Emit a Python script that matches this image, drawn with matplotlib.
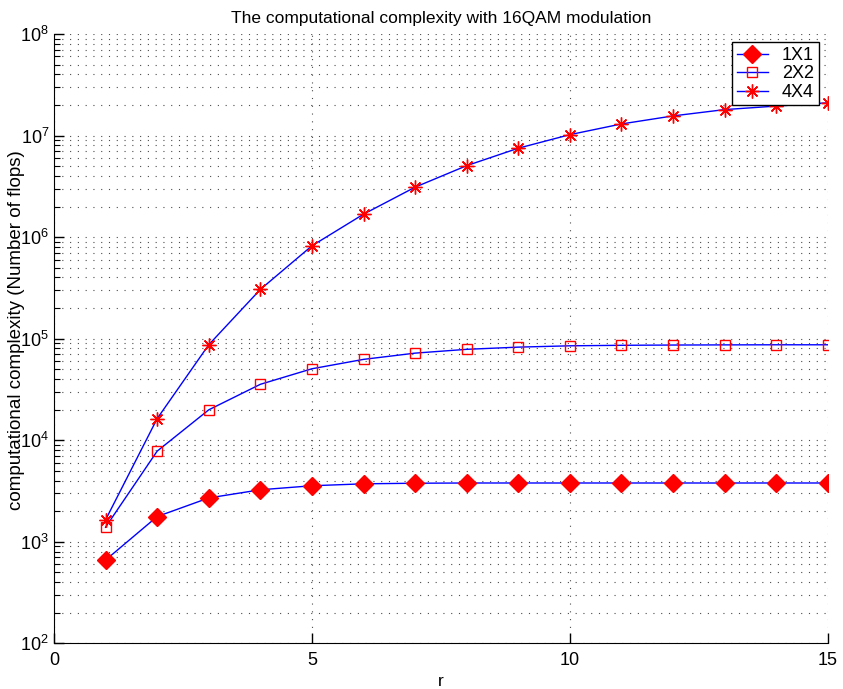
import matplotlib

matplotlib.use("Agg")
import matplotlib.pyplot as plt
from matplotlib.ticker import LogLocator, MultipleLocator, NullFormatter

plt.rcParams["font.family"] = ["Liberation Sans", "DejaVu Sans"]
plt.rcParams["mathtext.fontset"] = "custom"
plt.rcParams["mathtext.rm"] = "Liberation Sans"
plt.rcParams["mathtext.it"] = "Liberation Sans"

# number of flops per r for each antenna configuration
r = [1, 2, 3, 4, 5, 6, 7, 8, 9, 10, 11, 12, 13, 14, 15]
flops_1x1 = [660, 1770, 2700, 3250, 3560, 3720, 3770, 3790, 3790, 3790,
             3790, 3790, 3790, 3790, 3790]
flops_2x2 = [1390, 7800, 19900, 35500, 50500, 62500, 72000, 78500, 82500, 85000,
             86000, 86500, 86800, 87000, 87000]
flops_4x4 = [1640, 16300, 87000, 305000, 820000, 1.68e6, 3.1e6, 5.05e6, 7.5e6, 1.02e7,
             1.3e7, 1.56e7, 1.8e7, 1.95e7, 2.1e7]
labels = ["1X1", "2X2", "4X4"]

fig = plt.figure(figsize=(8.43, 6.89), dpi=100)
ax = fig.add_axes([0.064, 0.0663, 0.918, 0.8844])

line_kw = dict(color="blue", lw=1.0, markeredgecolor="red")
ax.semilogy(r, flops_1x1, marker="D", ms=9, markerfacecolor="red", label=labels[0], **line_kw)
ax.semilogy(r, flops_2x2, marker="s", ms=7, markerfacecolor="none", mew=1.0, label=labels[1], **line_kw)
ax.semilogy(r, flops_4x4, marker=(8, 2, 0), ms=10, mew=1.0, label=labels[2], **line_kw)

ax.set_xlim(0, 15)
ax.set_ylim(1e2, 1e8)
ax.xaxis.set_major_locator(MultipleLocator(5))
ax.yaxis.set_major_locator(LogLocator(base=10, numticks=10))
ax.yaxis.set_minor_locator(LogLocator(base=10, subs=range(2, 10), numticks=20))
ax.yaxis.set_minor_formatter(NullFormatter())

grid_kw = dict(color="0.3", lw=0.8, linestyle=(0, (1, 6)))
ax.grid(True, which="major", axis="both", **grid_kw)
ax.grid(True, which="minor", axis="y", **grid_kw)

ax.spines["top"].set_visible(False)
ax.spines["right"].set_visible(False)
ax.tick_params(which="major", direction="in", length=7, width=1, labelsize=13)
ax.tick_params(axis="x", which="major", pad=6)
ax.tick_params(which="minor", direction="in", length=4, width=0.8)

ax.set_title("The computational complexity with 16QAM modulation", fontsize=12.5, pad=8)
ax.set_xlabel("r", fontsize=12.5, labelpad=4)
ax.set_ylabel("computational complexity (Number of flops)", fontsize=13.5)
ax.yaxis.set_label_coords(-0.038, 0.514)

leg = ax.legend(loc="upper right", bbox_to_anchor=(0.988, 0.986), fontsize=13,
                fancybox=False, framealpha=1, edgecolor="black", handlelength=1.7,
                borderpad=0.25, labelspacing=0.08, handletextpad=0.8, borderaxespad=0)
leg.get_frame().set_linewidth(1.0)

fig.savefig("out.png", dpi=100)
